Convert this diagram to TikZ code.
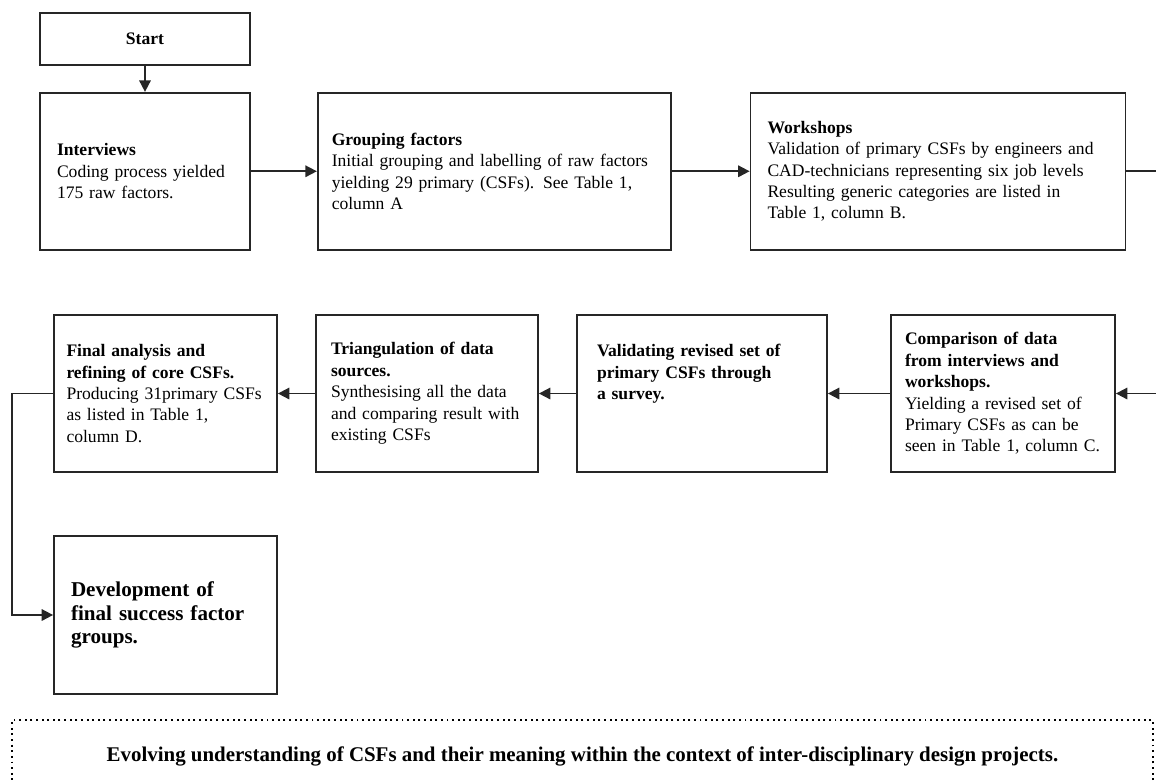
\documentclass[tikz,border=0pt]{standalone}
\usepackage{fontspec}
\setmainfont{Liberation Serif}
\usepackage{tikz}
\usetikzlibrary{arrows.meta, positioning}
\tikzset{
  stepbox/.style={
    rectangle, draw=black!85, line width=1pt,
    minimum height=3.14cm, inner xsep=0.34cm,
    align=left, font=\fontsize{10}{12.2}\selectfont
  },
  startbox/.style={
    rectangle, draw=black!85, line width=1pt,
    minimum width=4.2cm, minimum height=1.04cm,
    font=\fontsize{10}{12.2}\selectfont\bfseries
  },
  notebox/.style={
    rectangle, draw=black, line width=1.1pt,
    dash pattern=on 1.1pt off 2.1pt,
    font=\fontsize{11.9}{14}\selectfont\bfseries
  },
  flowarrow/.style={
    -{Triangle[length=6.5pt, width=6.5pt]}, line width=1pt, color=black!85
  },
  flowline/.style={
    line width=1pt, color=black!85
  }
}
\begin{document}
\begin{tikzpicture}

  \useasboundingbox (0,0) rectangle (23.12,-15.66);

  % ── Top row ────────────────────────────────────────────────────────────
  \node[startbox] (start) at (2.9,-0.78) {Start};
  \node[stepbox, text width=3.52cm, below=0.52cm of start] (interviews)
    {\textbf{Interviews}\\Coding process yielded\\175 raw factors.};
  \node[stepbox, text width=6.5cm, inner xsep=0.28cm, right=1.32cm of interviews] (grouping)
    {\textbf{Grouping factors}\\Initial grouping and labelling of raw factors\\
     yielding 29 primary (CSFs). See Table 1,\\column A};
  \node[stepbox, text width=6.82cm, right=1.56cm of grouping] (workshops)
    {\textbf{Workshops}\\Validation of primary CSFs by engineers and\\
     CAD-technicians  representing six job levels\\
     Resulting generic  categories are listed in\\Table 1, column B.};

  % arrows — top row
  \draw[flowarrow] (start) -- (interviews);
  \draw[flowarrow] (interviews) -- (grouping);
  \draw[flowarrow] (grouping) -- (workshops);
  \coordinate (edgetop) at ([xshift=0.8cm]workshops.east);
  \draw[flowline] (workshops.east) -- (edgetop);

  % ── Second row ─────────────────────────────────────────────────────────
  \node[stepbox, text width=3.96cm, inner xsep=0.25cm] (final) at (3.31,-7.87)
    {\textbf{Final analysis and}\\\textbf{refining of core CSFs.}\\
     Producing 31primary CSFs\\as listed in Table 1,\\column D.};
  \node[stepbox, text width=3.84cm, inner xsep=0.3cm] (triang) at (8.54,-7.87)
    {\textbf{Triangulation of data}\\\textbf{sources.}\\
     Synthesising all the data\\and comparing result with\\existing CSFs};
  \node[stepbox, text width=4.2cm, inner xsep=0.4cm] (validating) at (14.04,-7.87)
    {\textbf{Validating revised set of}\\\textbf{primary CSFs through}\\
     \textbf{a survey.}\\\mbox{}\\\mbox{}};
  \node[stepbox, text width=3.92cm, inner xsep=0.28cm] (comparison) at (20.06,-7.87)
    {\textbf{Comparison of data}\\\textbf{from interviews and}\\
     \textbf{workshops.}\\Yielding a revised set of\\
     Primary CSFs as can be\\seen in Table 1, column C.};

  % arrows — second row
  \coordinate (edgebot) at ([xshift=0.8cm]comparison.east);
  \draw[flowarrow] (edgebot) -- (comparison.east);
  \draw[flowarrow] (comparison) -- (validating);
  \draw[flowarrow] (validating) -- (triang);
  \draw[flowarrow] (triang) -- (final);

  % ── Result ─────────────────────────────────────────────────────────────
  \node[stepbox, text width=3.78cm, minimum height=3.16cm,
        font=\fontsize{12}{13.4}\selectfont\bfseries] (develop) at (3.31,-12.3)
    {Development of\\final success factor\\groups.};
  \draw[flowarrow] (final.west) -- ++(-0.82,0) |- (develop.west);

  % ── Note ───────────────────────────────────────────────────────────────
  \node[notebox, minimum width=22.82cm, minimum height=1.44cm] (note) at (11.65,-15.12)
    {Evolving understanding of CSFs and their meaning within the context of  inter-disciplinary design projects.};

\end{tikzpicture}
\end{document}
